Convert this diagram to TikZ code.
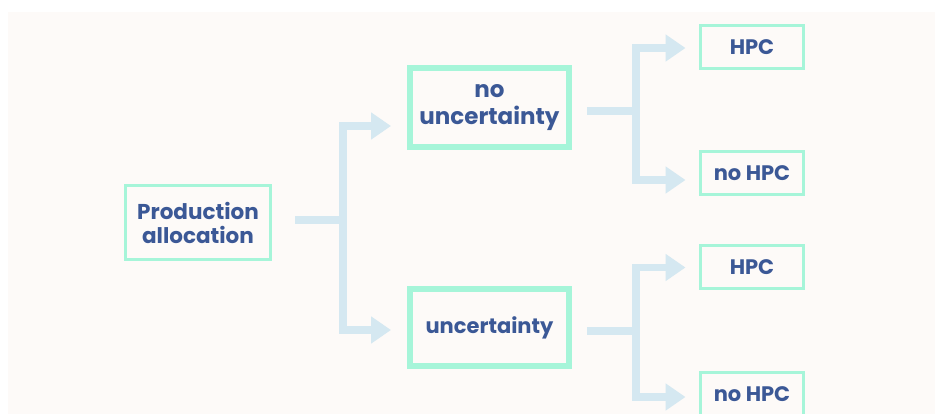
\documentclass[tikz,border=0pt]{standalone}
\usepackage{fontspec}
\setmainfont{Poppins}
\usetikzlibrary{arrows.meta}
\definecolor{paper}{HTML}{FDFAF8}
\definecolor{mint}{HTML}{A6F5D9}
\definecolor{pipe}{HTML}{D5E8F1}
\definecolor{ink}{HTML}{3B5896}
\begin{document}
\begin{tikzpicture}[x=1pt, y=-1pt,
  box/.style={draw=mint, line width=3pt, inner sep=0pt, align=center, text=ink},
  leaf/.style={box, minimum width=103pt, minimum height=43pt, font=\fontsize{21}{24}\selectfont\bfseries},
  pipeline/.style={draw=pipe, line width=7.5pt, line join=miter},
  tip/.style={pipeline, -{Triangle[length=20pt, width=26pt]}}]
\useasboundingbox (0,0) rectangle (935,414);
\fill[white] (0,0) rectangle (935,414);
\fill[paper] (8,12) rectangle (935,414);

\node[box, minimum width=145pt, minimum height=74pt, font=\fontsize{21.5}{24}\selectfont\bfseries] (pa) at (198,222.5) {Production\\allocation};
\node[box, line width=6pt, minimum width=159pt, minimum height=79pt, font=\fontsize{23}{27}\selectfont\bfseries] (nu) at (489.5,107.5) {no\\uncertainty};
\node[box, line width=6pt, minimum width=159pt, minimum height=77pt, font=\fontsize{21}{24}\selectfont\bfseries] (u) at (489.5,327.5) {uncertainty};
\node[leaf] (h1) at (752,47) {HPC};
\node[leaf] (n1) at (752,173.5) {no HPC};
\node[leaf] (h2) at (752,267.5) {HPC};
\node[leaf] (n2) at (752,394) {no HPC};

\coordinate (f1) at (343,220);
\coordinate (f2) at (636,111);
\coordinate (f3) at (636,331);

\draw[tip] ([xshift=23pt, yshift=2.5pt]pa.east) -- (f1) |- ([xshift=-16pt, yshift=-18.5pt]nu.west);
\draw[tip] ([xshift=23pt, yshift=2.5pt]pa.east) -- (f1) |- ([xshift=-16pt, yshift=-2.5pt]u.west);
\draw[tip] ([xshift=15pt, yshift=-3.5pt]nu.east) -- (f2) |- ([xshift=-13.5pt, yshift=-1pt]h1.west);
\draw[tip] ([xshift=15pt, yshift=-3.5pt]nu.east) -- (f2) |- ([xshift=-13.5pt, yshift=-6.5pt]n1.west);
\draw[tip] ([xshift=15pt, yshift=-3.5pt]u.east) -- (f3) |- ([xshift=-13.5pt]h2.west);
\draw[tip] ([xshift=15pt, yshift=-3.5pt]u.east) -- (f3) |- ([xshift=-13.5pt, yshift=-3pt]n2.west);
\end{tikzpicture}
\end{document}
